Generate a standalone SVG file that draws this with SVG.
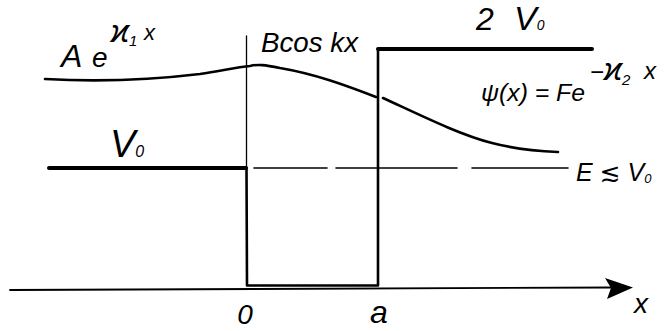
<svg xmlns="http://www.w3.org/2000/svg" width="670" height="331" viewBox="0 0 670 331">
<style>
.ln{fill:none;stroke:#000;stroke-linecap:round;stroke-linejoin:round}
.t{font-family:"Liberation Sans","DejaVu Sans",sans-serif;font-style:italic;fill:#000}
</style>
<rect width="670" height="331" fill="#fff"/>
<g id="axis">
<path class="ln" d="M10,290 L612,287.5" stroke-width="1.8"/>
<polygon points="605,278 633,287.5 607,299 611,288" fill="#000"/>
</g>
<g id="potential">
<path class="ln" d="M49,168 L246,168" stroke-width="4"/>
<path class="ln" d="M246.5,36 L246.5,168" stroke-width="1.3"/>
<path class="ln" d="M246.5,168 L247,285.5 L378,285.5 L378,49" stroke-width="2.6"/>
<path class="ln" d="M378,49 L592,49" stroke-width="4"/>
<path class="ln" d="M254,168 L327,168 M336,168 L457,168 M472,168 L568,168" stroke-width="1.6"/>
</g>
<g id="wave">
<path class="ln" d="M45,79 C100,82 150,80 200,74 C225,70 238,67 250,66 C258,64 265,65 280,68 C315,74 345,85 376,97" stroke-width="2.6"/>
<path class="ln" d="M383,98 C420,115 460,135 492,143 C515,149 535,151 558,152" stroke-width="2.6"/>
</g>
<g id="labels">
<text class="t" x="61" y="67" font-size="32">A<tspan x="92" font-size="28">e</tspan></text>
<text class="t" x="111" y="42" font-size="32">ϰ<tspan font-size="15" dy="4">1</tspan><tspan font-size="22" x="144" dy="-6">x</tspan></text>
<text class="t" x="261" y="52" font-size="28" textLength="97" lengthAdjust="spacingAndGlyphs">Bcos kx</text>
<text class="t" x="476" y="30" font-size="32">2<tspan x="514" font-size="34">V</tspan><tspan font-size="14" dy="0">0</tspan></text>
<text class="t" x="481" y="101" font-size="24" textLength="104" lengthAdjust="spacingAndGlyphs">ψ(x) = Fe</text>
<text class="t" x="590" y="80" font-size="24">−<tspan font-size="32">ϰ</tspan><tspan font-size="15" dy="5">2</tspan><tspan font-size="24" x="644" dy="-6">x</tspan></text>
<text class="t" x="110" y="157" font-size="38">V<tspan font-size="16" dy="0">0</tspan></text>
<text class="t" x="576" y="181" font-size="25">E <tspan>≲</tspan> V<tspan font-size="13" dy="2">0</tspan></text>
<text class="t" x="245" y="324" font-size="28" text-anchor="middle">0</text>
<text class="t" x="379" y="323" font-size="32" text-anchor="middle">a</text>
<text class="t" x="641" y="313" font-size="28" text-anchor="middle">x</text>
</g>
</svg>
